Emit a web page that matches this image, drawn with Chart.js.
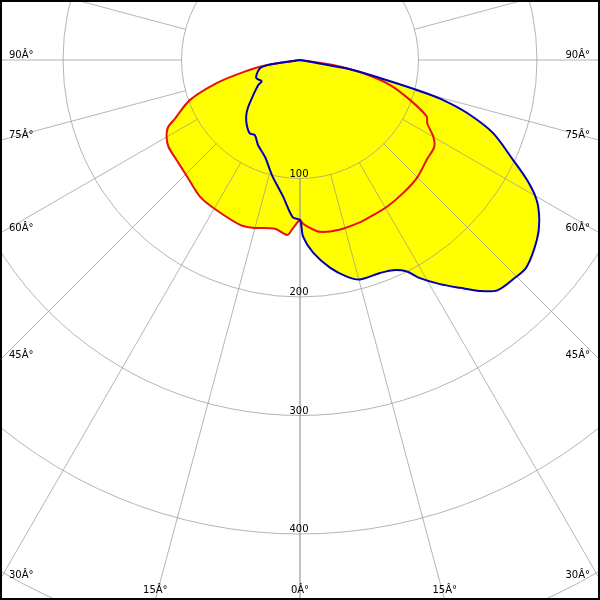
<!DOCTYPE html>
<html>
<head>
<meta charset="utf-8">
<script src="https://cdn.jsdelivr.net/npm/chart.js@4.4.1/dist/chart.umd.min.js"></script>
<style>
    html, body { margin: 0; padding: 0; background: #fff; }
    #wrap { width: 600px; height: 600px; }
</style>
</head>
<body>
<div id="wrap"><canvas id="polar" width="600" height="600"></canvas></div>
<script>
// C0-C180 plane (red), gamma angle in degrees, negative = left half
const redAngles = [-90, -81.5, -78, -74.5, -70, -65, -63, -60, -56.5, -51, -44, -36, -29, -20, -15.7, -8.4, -4.2, -2.4, 0,
    1, 3.4, 6.6, 13, 20, 24, 30.5, 38, 45, 52, 57, 60, 63.5, 66, 70, 74.5, 78.3, 81.5, 90];
const redValues = [0, 28, 49, 73, 99, 116, 125, 130, 133, 134, 137, 143, 145, 148, 147, 144, 148, 142, 135,
    138, 142, 146, 147, 146, 145, 144, 142, 140, 136, 135, 130, 120, 117, 99, 79, 54, 28, 0];

// C90-C270 plane (blue)
const blueAngles = [-90, -79.6, -68, -61, -59, -53.3, -47.3, -43.5, -39.2, -34.4, -31, -26.3, -19.8, -13.7, -7.1, -2.6, 0,
    1, 3.9, 8.2, 12.2, 15.3, 20.6, 23.9, 26.8, 28.8, 32, 35.1, 37.9, 40.6, 44.1, 47.6, 52.8, 56.2, 59.4, 62.1, 64.8,
    69.3, 72.4, 74.4, 75.6, 77.3, 79.5, 90];
const blueValues = [0, 33, 40, 37, 41, 49, 60, 66, 71, 75, 74, 80, 87, 100, 116, 133, 135,
    149, 163, 177, 187, 192, 192, 194, 200, 210, 223, 235, 247, 256, 258, 259, 251, 243, 232, 217, 199,
    174, 148, 125, 102, 69, 42, 0];

// grid
const ringValues = [100, 200, 300, 400, 500];
const ringLabels = ['100', '200', '300', '400'];
const gridAngles = [0, 15, 30, 45, 60, 75, 90, 105, 120, 135, 150, 165, 180];
const angleLabels = ['0Â°', '15Â°', '30Â°', '45Â°', '60Â°', '75Â°', '90Â°'];

const PX_PER_UNIT = 1.185;
const CENTER_X = 300, CENTER_Y = 60;

function toPoints(angles, values) {
    return angles.map((a, i) => {
        const rad = a * Math.PI / 180;
        return { x: values[i] * Math.sin(rad), y: values[i] * Math.cos(rad) };
    });
}

const FONT = "10px 'DejaVu Sans'";

const gridPlugin = {
    id: 'polarGrid',
    // grid goes on top of the yellow fills but under the outlines
    afterDatasetDraw(chart, args) {
        if (args.index !== 2) return;
        const ctx = chart.ctx;
        const xs = chart.scales.x, ys = chart.scales.y;
        const cx = xs.getPixelForValue(0), cy = ys.getPixelForValue(0);
        const unit = xs.getPixelForValue(1) - cx;
        const r0 = ringValues[0] * unit;
        const rMax = 1000 * unit;
        ctx.save();
        ctx.strokeStyle = 'rgba(150,150,150,0.7)';
        ctx.lineWidth = 1;
        ringValues.forEach(v => {
            ctx.beginPath();
            ctx.arc(cx, cy, v * unit, 0, Math.PI * 2);
            ctx.stroke();
        });
        gridAngles.forEach(a => {
            const rad = a * Math.PI / 180;
            [1, -1].forEach(side => {
                const dx = side * Math.sin(rad), dy = Math.cos(rad);
                ctx.beginPath();
                ctx.moveTo(cx + dx * r0, cy + dy * r0);
                ctx.lineTo(cx + dx * rMax, cy + dy * rMax);
                ctx.stroke();
            });
        });
        ctx.restore();
    },
    afterDatasetsDraw(chart) {
        const ctx = chart.ctx;
        const xs = chart.scales.x, ys = chart.scales.y;
        const cx = xs.getPixelForValue(0), cy = ys.getPixelForValue(0);
        const unit = xs.getPixelForValue(1) - cx;
        const W = chart.width, H = chart.height;
        ctx.save();
        ctx.fillStyle = '#000';
        ctx.font = FONT;

        // ring values
        ctx.textAlign = 'center';
        ctx.textBaseline = 'alphabetic';
        ringLabels.forEach((t, i) => {
            ctx.fillText(t, cx - 1, cy + ringValues[i] * unit - 2);
        });

        // angle labels where each ray leaves the picture
        angleLabels.forEach((t, i) => {
            const a = gridAngles[i];
            const rad = a * Math.PI / 180;
            const s = Math.sin(rad), c = Math.cos(rad);
            const tSide = s > 0 ? (W / 2) / s : Infinity;
            const tBottom = c > 0 ? (H - cy) / c : Infinity;
            if (tSide < tBottom) {
                const y = cy + tSide * c - 2;
                ctx.textAlign = 'left';
                ctx.fillText(t, 9, y);
                ctx.textAlign = 'right';
                ctx.fillText(t, W - 10, y);
            } else {
                const dx = tBottom * s;
                ctx.textAlign = 'center';
                ctx.fillText(t, cx - dx, H - 7);
                if (a !== 0) ctx.fillText(t, cx + dx, H - 7);
            }
        });
        ctx.restore();
    },
    afterDraw(chart) {
        const ctx = chart.ctx;
        ctx.save();
        ctx.strokeStyle = '#000';
        ctx.lineWidth = 4;
        ctx.strokeRect(0, 0, chart.width, chart.height);
        ctx.restore();
    }
};

const redPts = toPoints(redAngles, redValues);
const bluePts = toPoints(blueAngles, blueValues);

const lineStyle = { showLine: true, pointRadius: 0, tension: 0.3 };

new Chart(document.getElementById('polar'), {
    type: 'scatter',
    data: {
        datasets: [
            { ...lineStyle, label: 'C90-C270', data: bluePts, borderColor: '#0000b4', borderWidth: 2, fill: false },
            { ...lineStyle, label: 'C0-C180', data: redPts, borderColor: '#e81010', borderWidth: 2, fill: false },
            { ...lineStyle, label: 'fill red', data: redPts, borderColor: 'rgba(0,0,0,0)', borderWidth: 1, backgroundColor: '#ffff00', fill: 'shape' },
            { ...lineStyle, label: 'fill blue', data: bluePts, borderColor: 'rgba(0,0,0,0)', borderWidth: 1, backgroundColor: '#ffff00', fill: 'shape' }
        ]
    },
    options: {
        responsive: false,
        animation: false,
        layout: { padding: 0 },
        plugins: {
            legend: { display: false },
            tooltip: { enabled: false }
        },
        scales: {
            x: {
                display: false,
                min: -CENTER_X / PX_PER_UNIT,
                max: (600 - CENTER_X) / PX_PER_UNIT
            },
            y: {
                display: false,
                reverse: true,
                min: -CENTER_Y / PX_PER_UNIT,
                max: (600 - CENTER_Y) / PX_PER_UNIT
            }
        }
    },
    plugins: [gridPlugin]
});
</script>
</body>
</html>
